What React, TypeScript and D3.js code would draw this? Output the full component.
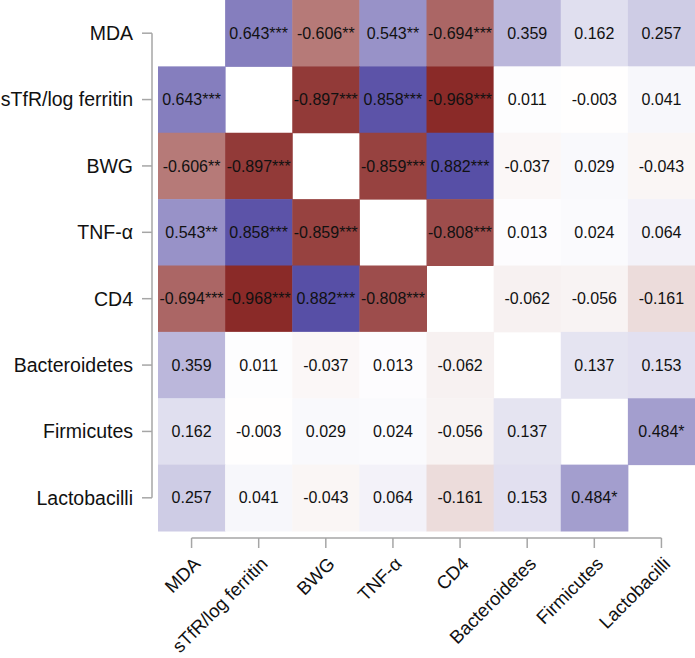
import * as d3 from "d3";
import React from "react";

const variables = ["MDA", "sTfR/log ferritin", "BWG", "TNF-α", "CD4", "Bacteroidetes", "Firmicutes", "Lactobacilli"];

// correlation matrix (null on the diagonal)
const corr: (number | null)[][] = [
  [null, 0.643, -0.606, 0.543, -0.694, 0.359, 0.162, 0.257],
  [0.643, null, -0.897, 0.858, -0.968, 0.011, -0.003, 0.041],
  [-0.606, -0.897, null, -0.859, 0.882, -0.037, 0.029, -0.043],
  [0.543, 0.858, -0.859, null, -0.808, 0.013, 0.024, 0.064],
  [-0.694, -0.968, 0.882, -0.808, null, -0.062, -0.056, -0.161],
  [0.359, 0.011, -0.037, 0.013, -0.062, null, 0.137, 0.153],
  [0.162, -0.003, 0.029, 0.024, -0.056, 0.137, null, 0.484],
  [0.257, 0.041, -0.043, 0.064, -0.161, 0.153, 0.484, null],
];

// significance marks
const stars: string[][] = [
  ["", "***", "**", "**", "***", "", "", ""],
  ["***", "", "***", "***", "***", "", "", ""],
  ["**", "***", "", "***", "***", "", "", ""],
  ["**", "***", "***", "", "***", "", "", ""],
  ["***", "***", "***", "***", "", "", "", ""],
  ["", "", "", "", "", "", "", ""],
  ["", "", "", "", "", "", "", "*"],
  ["", "", "", "", "", "", "*", ""],
];

const W = 695;
const H = 658;
const font = "'Liberation Sans', Arial, sans-serif";
const axisColor = "#a6a6a6";

export default function App() {
  const x = d3.scaleBand<string>().domain(variables).range([158, 695]);
  const y = d3.scaleBand<string>().domain(variables).range([0, 531]);
  const color = d3
    .scaleLinear<string>()
    .domain([-1, 0, 1])
    .range(["#862321", "#ffffff", "#41379a"])
    .interpolate(d3.interpolateRgb);

  const cx = (v: string) => (x(v) ?? 0) + x.bandwidth() / 2;
  const cy = (v: string) => (y(v) ?? 0) + y.bandwidth() / 2;

  const yAxisX = 152;
  const xAxisY = 538;

  return (
    <svg width={W} height={H} style={{ position: "absolute", left: 0, top: 0, background: "#fff" }}>
      {/* cells */}
      {variables.map((rv, i) =>
        variables.map((cv, j) => {
          const v = corr[i][j];
          if (v === null) return null;
          return (
            <g key={`${i}-${j}`}>
              <rect
                x={x(cv)}
                y={y(rv)}
                width={x.bandwidth() + 0.5}
                height={y.bandwidth() + 0.5}
                fill={color(v)}
              />
              <text
                x={cx(cv)}
                y={cy(rv)}
                dy="0.35em"
                textAnchor="middle"
                fontFamily={font}
                fontSize={16}
                fill="#111"
              >
                {v.toFixed(3) + stars[i][j]}
              </text>
            </g>
          );
        })
      )}

      {/* y axis */}
      <line x1={yAxisX} x2={yAxisX} y1={cy(variables[0])} y2={cy(variables[variables.length - 1])} stroke={axisColor} strokeWidth={1.5} />
      {variables.map((v) => (
        <g key={"yl" + v}>
          <line x1={yAxisX - 10} x2={yAxisX} y1={cy(v)} y2={cy(v)} stroke={axisColor} strokeWidth={1.5} />
          <text x={133} y={cy(v)} dy="0.35em" textAnchor="end" fontFamily={font} fontSize={19.5} fill="#111">
            {v}
          </text>
        </g>
      ))}

      {/* x axis */}
      <line x1={cx(variables[0])} x2={cx(variables[variables.length - 1])} y1={xAxisY} y2={xAxisY} stroke={axisColor} strokeWidth={1.5} />
      {variables.map((v) => (
        <g key={"xl" + v}>
          <line x1={cx(v)} x2={cx(v)} y1={xAxisY} y2={xAxisY + 10} stroke={axisColor} strokeWidth={1.5} />
          <text
            transform={`translate(${cx(v) + 10},${565}) rotate(-45)`}
            textAnchor="end"
            fontFamily={font}
            fontSize={18.5}
            fill="#111"
          >
            {v}
          </text>
        </g>
      ))}
    </svg>
  );
}
